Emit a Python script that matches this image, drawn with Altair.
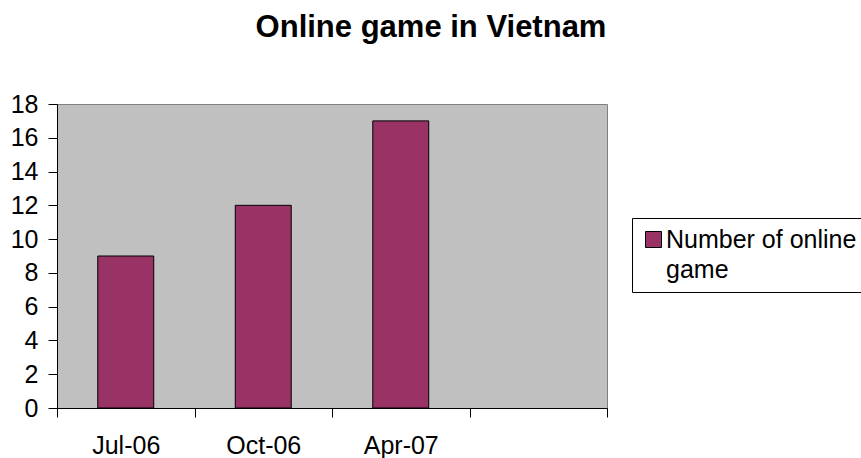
import altair as alt
import pandas as pd

categories = ["Jul-06", "Oct-06", "Apr-07", " "]
values = [9, 12, 17, None]
series_name = "Number of online game"

df = pd.DataFrame({"period": categories, "count": values, "series": [series_name] * 4})

FONT = "Liberation Sans"

bars = alt.Chart(df).mark_bar(stroke="black", strokeWidth=1, color="#993366",
                              width=alt.RelativeBandSize(0.407)).encode(
    x=alt.X("period:N", sort=categories,
            scale=alt.Scale(domain=categories, paddingInner=0, paddingOuter=0),
            axis=alt.Axis(title=None, labelAngle=0, tickBand="extent", tickSize=9,
                          labelPadding=16, labelFontSize=25, labelFont=FONT,
                          labelColor="black", domainColor="black", tickColor="black")),
    y=alt.Y("count:Q", scale=alt.Scale(domain=[0, 18], nice=False),
            axis=alt.Axis(title=None, values=list(range(0, 19, 2)), grid=False, tickSize=9,
                          labelPadding=10, labelFontSize=25, labelFont=FONT,
                          labelColor="black", domainColor="black", tickColor="black")),
    fill=alt.Fill("series:N", scale=alt.Scale(domain=[series_name], range=["#993366"]),
                  legend=alt.Legend(title=None, orient="none", legendX=575, legendY=114,
                                    symbolType="square", symbolSize=256, symbolStrokeColor="black",
                                    symbolStrokeWidth=1, labelFontSize=25, labelFont=FONT,
                                    labelColor="black", labelLimit=400,
                                    labelExpr="['Number of online', 'game']",
                                    strokeColor="black", fillColor="white", padding=9,
                                    labelOffset=0)),
)

chart = bars.properties(
    width=550, height=304,
    padding={"left": 57, "top": 104, "right": 254, "bottom": 50},
    autosize=alt.AutoSizeParams(type="none"),
    background="white",
    title=alt.TitleParams("Online game in Vietnam", font=FONT, fontSize=31, fontWeight="bold",
                          color="black", anchor="middle", frame="group", dx=99, offset=48),
).configure(
    view=alt.ViewConfig(fill="#C0C0C0", stroke="#808080", strokeWidth=1),
    style={"guide-label": {"lineHeight": 30}},
)

chart.save("out.html", embed_options={"renderer": "svg", "actions": False})
